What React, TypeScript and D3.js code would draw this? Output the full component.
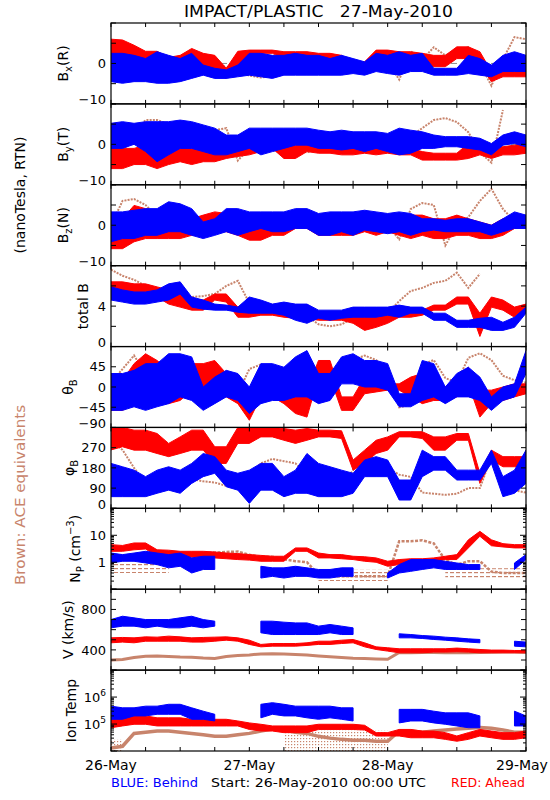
import React from 'react';
import * as d3 from 'd3';

// ---------- time grid (hours after 26-May-2010 00:00 UTC) ----------
const hours = [0,2,4,6,8,10,12,14,16,18,20,22,24,26,28,30,32,34,36,38,40,42,44,46,48,50,52,54,56,58,60,62,64,66,68,70,72];
const dayLabels = ['26-May', '27-May', '28-May', '29-May'];

// ---------- Bx (R) ----------
const bxRedHi = [6,5.8,4.5,3,3,1.5,2,3.7,2.5,2,-1.2,3,3.3,3.3,3.3,2.9,2.9,2.9,2.5,2.5,2,-0.4,0.4,3.3,3.3,2.9,2.9,2.5,2,2,4.1,4.1,2.9,-2,-2,-2,-2];
const bxRedLo = [0.5,0.4,-0.5,-2,-3.7,-4,-3,-2,-0.8,-2,-3.7,-0.4,-0.4,2.5,2.5,1.2,1.2,1.2,1.2,1.2,0.8,-2,-2,2,2,0,-0.4,-0.4,-0.8,-0.8,1.2,1.2,-0.4,-4.5,-3.3,-3.3,-3.3];
const bxBlueHi = [2.5,2.5,2,1.2,2.9,2,1.2,2.5,-0.4,-1.2,-1.6,-0.4,2.5,2.5,2,2,2.5,2,2,1.2,2,1.2,0.4,2.5,2,2.9,2,2.5,-1.2,-1.2,-1.2,2,1.2,-0.4,2,2.9,2];
const bxBlueLo = [-4.5,-4.9,-4.5,-4.5,-4.9,-4.9,-4.5,-3.7,-2.9,-3.7,-3.7,-3.3,-2.9,-3.3,-3.7,-2.9,-2.9,-2.9,-2.9,-2.9,-2.9,-2.5,-2.9,-2,-2.5,-2.9,-2,-2,-2.9,-2.9,-2.9,-2.5,-2.9,-3.3,-2,-2,-2];
const bxBrown = [-1,-1.5,-1,-1.5,-2,-2,-1.5,-1,0,0.5,-1,-2,-3,-3.5,-3,-2.5,-2,-1.5,-1,-1,-1.5,-1,-0.5,0,0.5,-4,3,1,4,2,3,4,0,-5.5,1,6.5,6];

// ---------- By (T) ----------
const byRedHi = [-0.2,-1,-1,-0.2,-1.8,-1.8,-1,-1,-1.4,-1,-1,-0.6,0.7,1,1.5,-0.2,-0.2,1.9,1.5,1,0.7,0.7,1,0.7,0.7,-1,-1,-1.8,-2.2,-2.2,-2.2,0.2,1,-0.2,-0.6,-0.2,0.2];
const byRedLo = [-6,-6,-5,-5,-6,-5,-4.3,-5,-4.3,-4.3,-3.5,-3,-2.6,-1.8,-1,-3.5,-3.5,-1.8,-2.2,-2.2,-2.6,-2.6,-2.2,-2.6,-2.2,-2.6,-2.6,-3.9,-3.9,-3.9,-3.9,-3.5,-2.6,-3.5,-2.6,-2.6,-2.2];
const byBlueHi = [5.2,5.6,5.2,5.6,5.6,5.6,6,5.6,4.8,4,2.3,2.3,4,4,4,4,4,4,3.5,3.1,3.5,3.1,3.1,3.1,2.7,4,3.5,3.1,2.3,1.9,1.9,1.9,1.5,0.2,2.3,3.1,2.3];
const byBlueLo = [-1,-1,0,-1.8,-4.3,-2.6,-1,-1,-1.8,-2.6,-2.6,-1.8,-1,-2.6,-1.8,-1,-0.2,-0.2,-1,-1,-1.4,-1,-1.8,-1,-1.8,-2.6,-2.2,-1,-1,-0.6,-0.6,-1,-1.4,-2.6,-0.2,0.2,-0.6];
const byBrown = [-5,-2,3,6,6,5,4.5,5,4,3.5,4,-4,-1,-1,-1.5,-2,-1.5,-2,-1,-1.5,-1,-0.5,-1,-1,-1.5,-1,2,4,6,6.5,5.5,3,-2,-4.5,8.5,null,null];

// ---------- Bz (N) ----------
const bzRedHi = [2.5,1.6,4.9,4.1,3.3,2.5,1.6,1.6,2.5,3.3,2.9,1.6,0.8,0.8,2.5,2.5,1.6,1.6,1.6,0.8,0,1.6,1.6,1.6,1.6,2.5,2.5,2.5,1.6,1.6,2.5,1.6,0.8,0,1.6,1.6,1.6];
const bzRedLo = [-5.8,-5.8,-4.1,-3.3,-3.3,-3.3,-3.3,-2.5,-2.5,-1.6,-1.6,-2.5,-3.7,-3.7,-2.5,-2.5,-0.8,-0.8,-2.5,-2.5,-2.5,-2.5,-1.6,-2.5,-1.6,-2.5,-3.3,-2.5,-3.3,-3.3,-2.5,-2.5,-3.3,-3.3,-2.5,-0.8,-0.4];
const bzBlueHi = [3.3,3.3,3.7,4.1,4.1,5.8,5.3,4.1,0.8,1.6,4.1,4.1,3.3,3.3,3.3,3.3,4.1,4.1,2.9,3.3,3.3,3.3,3.7,3.3,2.9,3.3,2.9,1.6,1.6,1.2,1.6,1.6,0.8,0,1.6,3.3,2.5];
const bzBlueLo = [-4.1,-3.3,-3.3,-2.5,-2.5,-1.6,-1.6,-2.5,-3.3,-2.5,-1.6,-2.5,-1.6,-0.8,-1.6,-1.6,-0.8,-0.8,-2.5,-2.5,-1.6,-2.5,-1.2,-1.6,-2.1,-1.6,-2.5,-1.6,-1.2,-1.6,-1.6,-1.6,-1.6,-2.5,-1.6,-0.8,-0.8];
const bzBrown = [0,6,6.5,5,2,1,0,-1,-1,0,-1,1,2.5,3,2,0,0,-0.5,0,0.5,1.5,1,1,0.5,0,-3.5,4,5.5,5,-5,0,2,6,9,4,1,0];

// ---------- total B ----------
const tbRedHi = [6.4,6.4,6.2,6.2,5.9,5.6,5.2,4.6,4.6,5.2,5.2,3.9,3.9,4.1,3.9,3.6,3.6,3.4,3.3,3.3,3.3,3.3,3.3,3.3,3.3,3.6,3.6,3.6,4.1,4.1,4.9,4.9,3.3,4.9,4.6,3.9,4.2];
const tbRedLo = [5.6,5.4,4.9,4.9,4.9,4.2,3.9,3.6,3.6,4.6,4.4,2.9,2.9,3.1,3.1,2.9,2.8,2.8,2.6,2.6,2.6,2.3,1.6,1.9,2.3,2.9,2.9,3.1,3.6,3.6,4.2,4.2,1,3.9,3.6,2.9,3.6];
const tbBlueHi = [5.9,5.6,5.4,5.4,5.6,6.2,6.4,4.9,4.6,4.2,4.1,3.9,4.9,4.6,4.2,4.4,4.2,4.2,3.6,3.6,3.6,3.9,3.9,3.9,3.9,4.1,3.9,3.9,3.3,3.3,2.6,2.6,2.8,2.9,2.4,2.9,3.9];
const tbBlueLo = [4.6,4.4,4.2,4.2,4.4,4.6,5.2,3.9,3.7,3.6,3.6,3.4,3.3,3.3,3.3,3.1,2.6,2.3,2.8,2.6,2.8,2.9,2.9,2.9,3.1,2.9,3.3,3.3,2.6,2.6,1.9,1.9,1.9,1.6,1.6,1.9,3.3];
const tbBrown = [7.6,7,6.6,6,5.6,5.2,5,4.9,5,5.2,6,6.5,4.3,3.8,3.5,3.2,3.1,3,2.2,2,2.2,2.8,3,3.2,3.3,4.5,5.5,5.8,6.3,6.5,7.3,5.8,7.2,null,null,null,null];

// ---------- theta_B ----------
const thRedHi = [15,15,52,74,59,37,37,52,52,59,30,22,-22,30,37,30,-7,-7,59,59,-22,-22,22,15,7,7,22,30,22,0,22,44,-7,-7,0,7,7];
const thRedLo = [-52,-52,-37,-37,-22,-37,-30,-7,-7,-15,-22,-37,-74,-22,-22,-37,-59,-67,22,22,-52,-52,-15,-11,-7,-7,-22,-37,-30,-30,-22,7,-67,-37,-30,-22,-15];
const thBlueHi = [30,30,37,52,52,74,74,67,0,22,37,30,0,52,52,44,67,81,30,30,67,74,59,59,52,-15,-15,59,52,0,30,44,22,-22,0,7,81];
const thBlueLo = [-52,-52,-44,-52,-44,-37,-22,-30,-52,-37,-22,-30,-59,-37,-30,-30,-22,-22,-37,-30,7,7,0,0,-7,-44,-44,-30,-22,-37,-22,-22,-30,-52,-30,-22,30];
const thBrown = [10,40,70,30,0,-10,-15,-5,-5,-5,-10,-15,40,50,40,20,10,10,0,10,30,60,70,60,40,-45,-40,50,60,20,10,65,75,60,25,15,10];

// ---------- phi_B ----------
const phRedHi = [360,360,348,348,333,289,318,348,348,274,274,360,360,360,360,355,348,355,348,348,345,215,259,303,318,341,341,341,318,318,333,333,156,259,230,230,230];
const phRedLo = [260,274,259,259,244,230,244,259,259,200,200,289,289,318,318,303,289,303,318,318,311,170,200,244,259,318,318,311,259,259,303,303,111,215,185,185,185];
const phBlueHi = [200,185,170,141,170,185,170,200,244,230,170,156,170,200,200,141,170,244,200,185,170,156,215,230,215,126,126,259,230,230,170,170,170,259,141,170,259];
const phBlueLo = [52,52,52,52,67,81,67,111,141,156,96,81,22,81,81,52,67,67,52,52,52,67,141,141,141,37,37,141,170,170,126,126,126,200,52,67,111];
const phBrown = [300,260,180,110,100,100,95,130,120,115,100,110,150,200,220,210,200,150,75,75,100,170,230,220,180,150,140,70,65,60,65,90,90,230,90,80,70];

// ---------- Np (cm^-3) ----------
const npRedHi = [4.5,4.2,5.2,5.2,2.9,2.8,2.55,2.55,2.55,2.4,2.2,2.1,1.92,1.8,1.67,1.67,3.4,3.4,2.2,1.92,1.92,1.67,1.6,1.45,1.09,1.26,1.35,1.35,1.45,1.67,1.92,6.8,14,6.8,4.9,4.5,4.5];
const npRedLo = [2.55,2.55,2.9,3.1,1.67,1.67,1.45,1.55,1.55,1.45,1.35,1.26,1.2,1.09,1.09,1.09,2.55,2.55,1.45,1.45,1.35,1.26,1.09,1.0,0.71,0.82,0.94,0.94,1.0,1.26,1.26,3.4,9.2,4.1,3.7,3.4,3.4];
const npBlueHi = [2.2,1.92,2.2,2.55,2.2,1.92,2.2,1.45,1.67,1.67,null,null,null,0.71,0.62,0.62,0.71,0.62,0.54,0.54,0.62,0.62,null,null,0.4,0.82,1.26,1.26,1.26,1.09,0.94,0.82,0.82,null,null,0.94,1.92];
const npBlueLo = [0.94,1.09,1.09,0.94,0.82,0.62,0.71,0.4,0.54,0.54,null,null,null,0.26,0.3,0.26,0.3,0.3,0.26,0.26,0.3,0.3,null,null,0.26,0.4,0.46,0.54,0.62,0.54,0.54,0.54,0.54,null,null,0.54,1.26];
const npBrown = [1.1,1.2,1.5,2,1.8,1.5,1.6,2,2.2,2.3,2.4,2.5,1.9,1.6,1.6,1.3,1.1,1.0,0.35,0.3,0.3,0.3,0.3,0.3,0.3,6,6,6.5,5,1.2,0.8,1.1,1.1,0.45,0.4,0.4,0.4];
const npScatterHi = [2,2,2,2,2,2,null,null,null,null,null,null,null,null,null,null,null,null,0.55,0.55,0.55,0.55,0.55,0.55,0.55,null,null,null,null,0.6,0.6,0.6,0.6,0.6,0.6,0.6,0.6];
const npScatterLo = [0.4,0.4,0.4,0.4,0.4,0.4,null,null,null,null,null,null,null,null,null,null,null,null,0.2,0.2,0.2,0.2,0.2,0.2,0.2,null,null,null,null,0.22,0.22,0.22,0.22,0.22,0.22,0.22,0.22];

// ---------- V (km/s) ----------
const vRedHi = [519,523,519,529,526,536,529,519,523,526,529,519,496,454,463,463,463,470,486,486,496,503,470,430,421,411,411,411,411,411,418,411,404,398,398,394,394];
const vRedLo = [470,477,470,486,486,486,486,477,477,486,496,486,454,430,437,437,437,444,454,454,463,470,430,404,388,371,371,371,378,378,381,378,371,371,371,371,371];
const vBlueHi = [700,733,717,700,700,700,717,733,700,684,null,null,null,684,684,674,667,667,635,651,635,618,null,null,null,559,552,542,536,526,519,509,503,null,null,486,477];
const vBlueLo = [618,635,635,618,635,618,618,635,618,635,null,null,null,569,552,552,552,552,552,569,552,552,null,null,null,519,519,513,503,496,486,477,470,null,null,437,430];
const vBrown = [300,305,325,338,340,335,330,328,320,315,335,345,350,360,362,360,355,350,340,332,325,318,314,311,308,375,372,375,374,372,375,372,375,376,380,378,375];

// ---------- Ion Temp (K) ----------
const tRedHi = [1.7e5,1.7e5,2e5,2e5,1.7e5,1.7e5,1.7e5,1.5e5,1.5e5,1.5e5,1.5e5,1.3e5,1.1e5,9.8e4,8.5e4,8.5e4,8.5e4,8.5e4,9.8e4,9.8e4,9.8e4,9.8e4,9e4,4.8e4,4.8e4,6.3e4,6.3e4,5.5e4,5.5e4,4.8e4,3.6e4,4.8e4,6.3e4,5.5e4,4.8e4,4.8e4,5.5e4];
const tRedLo = [7.3e4,8.5e4,9.8e4,9.8e4,8.5e4,8.5e4,8.5e4,8.5e4,8.5e4,8.5e4,8.5e4,8.5e4,6.3e4,5.5e4,5.5e4,4.8e4,4.8e4,4.8e4,6.3e4,6.3e4,6.3e4,6.3e4,6e4,3.6e4,3.6e4,3.6e4,3.1e4,3.1e4,3.1e4,2.7e4,2.3e4,2.7e4,3.6e4,3.1e4,2.7e4,2.7e4,3.1e4];
const tBlueHi = [4.6e5,4e5,4e5,4.6e5,4.6e5,5.4e5,5.4e5,4e5,3e5,2.3e5,null,null,null,5.4e5,6.2e5,5.4e5,4.6e5,4.6e5,4.6e5,4.6e5,4e5,4e5,null,null,null,3.5e5,3.5e5,3.5e5,3e5,2.6e5,2.6e5,2.6e5,2e5,null,null,3e5,2e5];
const tBlueLo = [1.5e5,1.5e5,2e5,2e5,2.3e5,2.3e5,2.3e5,1.5e5,1.5e5,1.3e5,null,null,null,1.7e5,2.3e5,2e5,2e5,1.7e5,1.5e5,1.7e5,1.5e5,1.3e5,null,null,null,1.1e5,1.3e5,1.3e5,1.1e5,9.8e4,8.5e4,7.3e4,7.3e4,null,null,8.5e4,8.5e4];
const tBrown = [1.3e4,1.5e4,4.5e4,5e4,5.5e4,5.5e4,5e4,4.5e4,4e4,3.5e4,3.5e4,4e4,4.5e4,5.5e4,6.5e4,6e4,5e4,4.5e4,3.5e4,3e4,2.7e4,2.5e4,2.5e4,2.3e4,2.3e4,5.5e4,5.5e4,5e4,5.5e4,6e4,6.5e4,7e4,7.5e4,7e4,6e4,5e4,5e4];
const tScatterHi = [2.7e4,2.7e4,null,null,null,null,null,null,null,null,null,null,null,null,null,6e4,6e4,6e4,6e4,6e4,6e4,6e4,6e4,6e4,6e4,null,null,null,null,null,null,null,null,null,null,null,null];
const tScatterLo = [1e4,1e4,null,null,null,null,null,null,null,null,null,null,null,null,null,1e4,1e4,1e4,1e4,1e4,1e4,1e4,1e4,1e4,1e4,null,null,null,null,null,null,null,null,null,null,null,null];

// ---------- axis ticks / labels ----------
const bTicks = [-10, -5, 0, 5, 10];
const bLabels = [0, -10];
const tbTicks = [0, 2, 4, 6, 8];
const tbLabels = [0, 4];
const thTicks = [-90, -45, 0, 45, 90];
const thLabels = [-90, -45, 0, 45];
const phTicks = [0, 90, 180, 270, 360];
const phLabels = [0, 90, 180, 270];
const npLabels = [1, 10];
const vTicks = [200, 300, 400, 500, 600, 700, 800, 900, 1000];
const vLabels = [400, 800];
const tLabels = [1e5, 1e6];

// ---------- styling ----------
const RED = '#ff0000';
const BLUE = '#0000ff';
const BROWN = '#c8846c';
const FONT = 'DejaVu Sans, sans-serif';
const X0 = 111, X1 = 526, TOP = 23, BOTTOM = 751;
const NPANEL = 9;
const PH = (BOTTOM - TOP) / NPANEL;

const t0 = Date.UTC(2010, 4, 26);
const toDate = (h: number) => new Date(t0 + h * 3600e3);
const x = d3.scaleUtc().domain([toDate(0), toDate(72)]).range([X0, X1]);
const xTicks = x.ticks(d3.utcHour.every(6) as any);
const dayTicks = x.ticks(d3.utcDay.every(1) as any);
const fmtDay = d3.utcFormat('%d-%b');

type Part = { t: string; s?: 'sub' | 'sup' };
type PanelDef = {
  title: Part[]; tx: number; domain: [number, number]; log?: boolean;
  ticks?: number[]; labels: number[]; zero?: boolean;
  red: [(number | null)[], (number | null)[]];
  blue: [(number | null)[], (number | null)[]];
  brown: (number | null)[]; brownW: number; brownDash?: string;
  scatter?: [(number | null)[], (number | null)[]]; scatterFill?: string;
  supLabels?: boolean;
};

const panels: PanelDef[] = [
  { title: [{ t: 'B' }, { t: 'x', s: 'sub' }, { t: '(R)' }], tx: 68, domain: [-10, 10], ticks: bTicks, labels: bLabels, zero: true,
    red: [bxRedLo, bxRedHi], blue: [bxBlueLo, bxBlueHi], brown: bxBrown, brownW: 2, brownDash: '2 1.2' },
  { title: [{ t: 'B' }, { t: 'y', s: 'sub' }, { t: '(T)' }], tx: 68, domain: [-10, 10], ticks: bTicks, labels: bLabels, zero: true,
    red: [byRedLo, byRedHi], blue: [byBlueLo, byBlueHi], brown: byBrown, brownW: 2, brownDash: '2 1.2' },
  { title: [{ t: 'B' }, { t: 'z', s: 'sub' }, { t: '(N)' }], tx: 68, domain: [-10, 10], ticks: bTicks, labels: bLabels, zero: true,
    red: [bzRedLo, bzRedHi], blue: [bzBlueLo, bzBlueHi], brown: bzBrown, brownW: 2, brownDash: '2 1.2' },
  { title: [{ t: 'total B' }], tx: 88, domain: [0, 8], ticks: tbTicks, labels: tbLabels,
    red: [tbRedLo, tbRedHi], blue: [tbBlueLo, tbBlueHi], brown: tbBrown, brownW: 2, brownDash: '2 1.2' },
  { title: [{ t: 'θ' }, { t: 'B', s: 'sub' }], tx: 73, domain: [-90, 90], ticks: thTicks, labels: thLabels,
    red: [thRedLo, thRedHi], blue: [thBlueLo, thBlueHi], brown: thBrown, brownW: 2, brownDash: '2 1.2' },
  { title: [{ t: 'φ' }, { t: 'B', s: 'sub' }], tx: 74, domain: [0, 360], ticks: phTicks, labels: phLabels,
    red: [phRedLo, phRedHi], blue: [phBlueLo, phBlueHi], brown: phBrown, brownW: 2, brownDash: '2 1.2' },
  { title: [{ t: 'N' }, { t: 'P', s: 'sub' }, { t: ' (cm' }, { t: '−3', s: 'sup' }, { t: ')' }], tx: 80, domain: [0.1, 100], log: true, labels: npLabels,
    red: [npRedLo, npRedHi], blue: [npBlueLo, npBlueHi], brown: npBrown, brownW: 2.5, brownDash: '3 1.5',
    scatter: [npScatterLo, npScatterHi], scatterFill: 'url(#brownDash)' },
  { title: [{ t: 'V (km/s)' }], tx: 73, domain: [200, 1000], ticks: vTicks, labels: vLabels,
    red: [vRedLo, vRedHi], blue: [vBlueLo, vBlueHi], brown: vBrown, brownW: 3 },
  { title: [{ t: 'Ion Temp' }], tx: 76, domain: [1e4, 1e7], log: true, labels: tLabels, supLabels: true,
    red: [tRedLo, tRedHi], blue: [tBlueLo, tBlueHi], brown: tBrown, brownW: 3.5,
    scatter: [tScatterLo, tScatterHi], scatterFill: 'url(#brownDots)' },
];

function Title({ parts, x, y }: { parts: Part[]; x: number; y: number }) {
  let shift = 0;
  return (
    <text transform={`translate(${x},${y}) rotate(-90)`} textAnchor="middle" fontSize={14} fontFamily={FONT}>
      {parts.map((p, k) => {
        const target = p.s === 'sub' ? 4 : p.s === 'sup' ? -6 : 0;
        const dy = target - shift;
        shift = target;
        return (
          <tspan key={k} dy={dy} fontSize={p.s ? 10 : 14}>{p.t}</tspan>
        );
      })}
    </text>
  );
}

function fmtNum(v: number) {
  return String(v).replace('-', '\u2212');
}

function Panel({ p, i }: { p: PanelDef; i: number }) {
  const top = TOP + i * PH;
  const bot = top + PH;
  const y: any = p.log
    ? d3.scaleLog().domain(p.domain).range([bot, top])
    : d3.scaleLinear().domain(p.domain).range([bot, top]);

  const band = (lo: (number | null)[], hi: (number | null)[]) =>
    d3.area<number>()
      .defined((k) => lo[k] != null && hi[k] != null)
      .x((k) => x(toDate(hours[k])))
      .y0((k) => y(lo[k] as number))
      .y1((k) => y(hi[k] as number))
      .curve(d3.curveLinear)(hours.map((_, k) => k)) || '';

  const line = d3.line<number>()
    .defined((k) => p.brown[k] != null)
    .x((k) => x(toDate(hours[k])))
    .y((k) => y(p.brown[k] as number))(hours.map((_, k) => k)) || '';

  let yTicks: { v: number; len: number }[] = [];
  if (p.log) {
    yTicks = (y.ticks() as number[]).map((v) => {
      const lg = Math.log10(v);
      return { v, len: Math.abs(lg - Math.round(lg)) < 1e-6 ? 6 : 3 };
    });
  } else {
    yTicks = (p.ticks || []).map((v) => ({ v, len: 5 }));
  }

  const clipId = `clip${i}`;
  return (
    <g>
      <defs>
        <clipPath id={clipId}>
          <rect x={X0} y={top} width={X1 - X0} height={PH} />
        </clipPath>
      </defs>
      <g clipPath={`url(#${clipId})`}>
        {p.zero && (
          <line x1={X0} x2={X1} y1={y(0)} y2={y(0)} stroke="#8c8c8c" strokeWidth={1} strokeDasharray="6 4" />
        )}
        {p.scatter && <path d={band(p.scatter[0], p.scatter[1])} fill={p.scatterFill} stroke="none" />}
        <path d={line} fill="none" stroke={BROWN} strokeWidth={p.brownW} strokeDasharray={p.brownDash} />
        <path d={band(p.red[0], p.red[1])} fill={RED} stroke={RED} strokeWidth={1} strokeLinejoin="round" />
        <path d={band(p.blue[0], p.blue[1])} fill={BLUE} stroke={BLUE} strokeWidth={1} strokeLinejoin="round" />
      </g>
      <rect x={X0} y={top} width={X1 - X0} height={PH} fill="none" stroke="#000" strokeWidth={1.2} />
      {xTicks.map((d, k) => (
        <g key={`xt${k}`}>
          <line x1={x(d)} x2={x(d)} y1={top} y2={top + 4} stroke="#000" strokeWidth={1} />
          <line x1={x(d)} x2={x(d)} y1={bot} y2={bot - 4} stroke="#000" strokeWidth={1} />
        </g>
      ))}
      {yTicks.map((t, k) => (
        <g key={`yt${k}`}>
          <line x1={X0} x2={X0 + t.len} y1={y(t.v)} y2={y(t.v)} stroke="#000" strokeWidth={1} />
          <line x1={X1} x2={X1 - t.len} y1={y(t.v)} y2={y(t.v)} stroke="#000" strokeWidth={1} />
        </g>
      ))}
      {p.labels.map((v, k) => {
        const yy = Math.min(y(v), bot - 4.5);
        if (p.supLabels) {
          const e = Math.round(Math.log10(v));
          return (
            <text key={`yl${k}`} x={106} y={yy + 5} textAnchor="end" fontSize={13} fontFamily={FONT}>
              10<tspan dy={-6} fontSize={9}>{e}</tspan>
            </text>
          );
        }
        return (
          <text key={`yl${k}`} x={106} y={yy} dy="0.36em" textAnchor="end" fontSize={13} fontFamily={FONT}>
            {fmtNum(v)}
          </text>
        );
      })}
      <Title parts={p.title} x={p.tx} y={(top + bot) / 2} />
    </g>
  );
}

export default function App() {
  return (
    <svg width={550} height={800} viewBox="0 0 550 800"
      style={{ position: 'absolute', left: 0, top: 0, background: '#fff' }}>
      <defs>
        <pattern id="brownDots" width={3} height={3} patternUnits="userSpaceOnUse">
          <rect x={0} y={0} width={1.2} height={1.2} fill={BROWN} />
        </pattern>
        <pattern id="brownDash" width={6} height={4} patternUnits="userSpaceOnUse">
          <rect x={0} y={0} width={4} height={1.2} fill={BROWN} />
        </pattern>
      </defs>
      <rect x={0} y={0} width={550} height={800} fill="#fff" />
      <text x={318.5} y={17} textAnchor="middle" fontSize={15} fontFamily={FONT}
        textLength={269} lengthAdjust="spacingAndGlyphs" style={{ whiteSpace: 'pre' }}>
        {'IMPACT/PLASTIC   27-May-2010'}
      </text>
      {panels.map((p, i) => <Panel key={i} p={p} i={i} />)}
      <text transform="translate(25,195) rotate(-90)" textAnchor="middle" fontSize={14} fontFamily={FONT}>
        (nanoTesla, RTN)
      </text>
      <text transform="translate(25,495) rotate(-90)" textAnchor="middle" fontSize={14} fontFamily={FONT}
        fill={BROWN} textLength={180} lengthAdjust="spacingAndGlyphs">
        Brown: ACE equivalents
      </text>
      {dayTicks.map((d, k) => (
        <text key={`d${k}`} x={Math.min(x(d), 522)} y={770} textAnchor="middle" fontSize={14} fontFamily={FONT}>
          {dayLabels[k] ?? fmtDay(d)}
        </text>
      ))}
      <text x={111} y={787} fontSize={13} fontFamily={FONT} fill={BLUE} textLength={87} lengthAdjust="spacingAndGlyphs">BLUE: Behind</text>
      <text x={211} y={787} fontSize={13} fontFamily={FONT} fill="#000" textLength={215} lengthAdjust="spacingAndGlyphs">Start: 26-May-2010 00:00 UTC</text>
      <text x={451} y={787} fontSize={13} fontFamily={FONT} fill={RED} textLength={74} lengthAdjust="spacingAndGlyphs">RED: Ahead</text>
    </svg>
  );
}
